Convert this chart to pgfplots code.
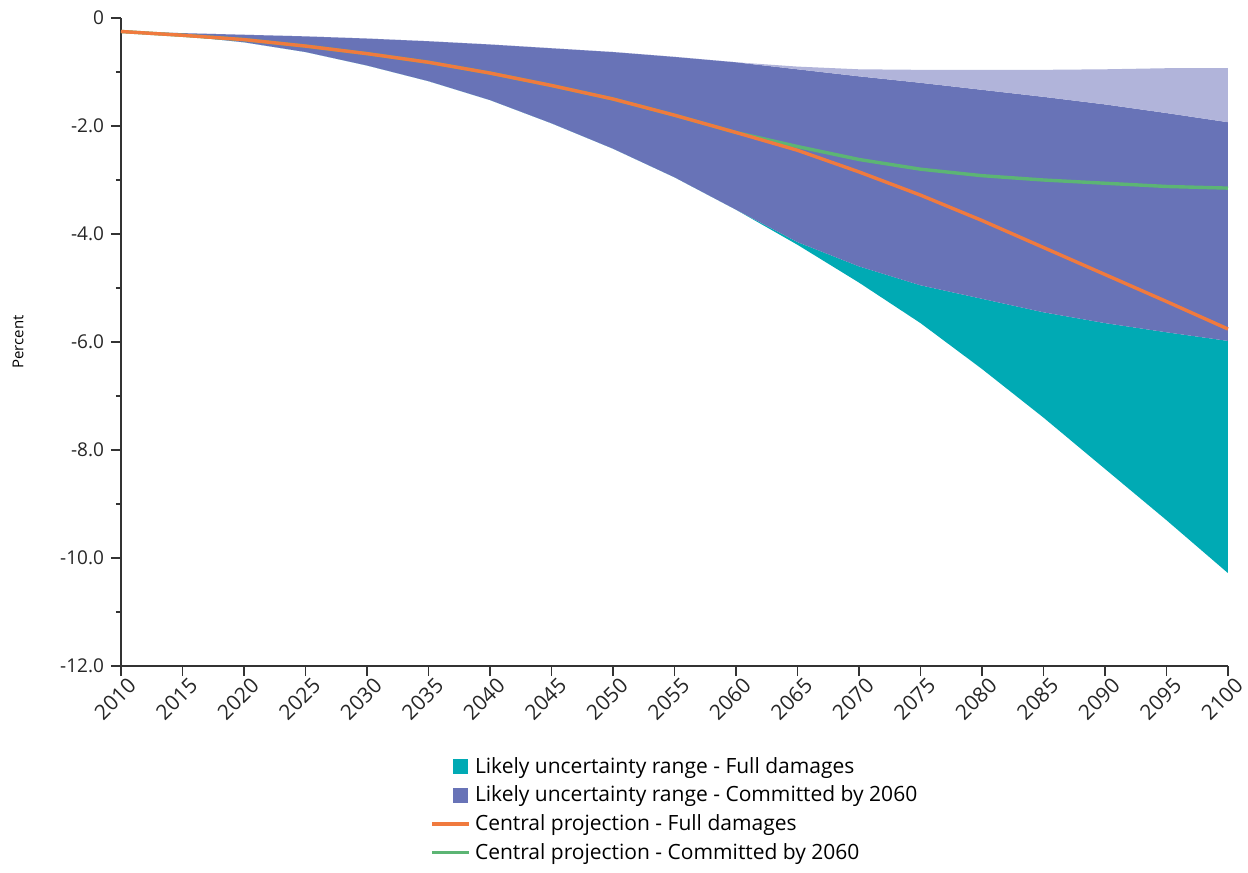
\documentclass[border=0pt]{standalone}
\usepackage{fontspec}
\setmainfont{Open Sans}
\usepackage{pgfplots}
\usepackage{pgfplotstable}
\pgfplotsset{compat=1.18}
\usepgfplotslibrary{fillbetween}
\definecolor{cteal}{HTML}{00AAB4}
\definecolor{cblue}{HTML}{6873B7}
\definecolor{clav}{HTML}{B1B4DA}
\definecolor{corange}{HTML}{F07A3E}
\definecolor{cgreen}{HTML}{5CB574}
\definecolor{caxis}{HTML}{333333}
\pgfplotstableread{
year fl cl cu fu of gc
2010 -0.25 -0.25 -0.25 -0.25 -0.25 -0.25
2015 -0.33 -0.33 -0.28 -0.28 -0.32 -0.32
2020 -0.45 -0.45 -0.31 -0.31 -0.40 -0.40
2025 -0.63 -0.63 -0.34 -0.34 -0.52 -0.52
2030 -0.88 -0.88 -0.38 -0.38 -0.66 -0.66
2035 -1.17 -1.17 -0.43 -0.43 -0.82 -0.82
2040 -1.52 -1.52 -0.49 -0.49 -1.02 -1.02
2045 -1.95 -1.95 -0.56 -0.56 -1.25 -1.25
2050 -2.42 -2.42 -0.63 -0.63 -1.50 -1.50
2055 -2.95 -2.95 -0.72 -0.72 -1.80 -1.80
2060 -3.55 -3.55 -0.82 -0.82 -2.12 -2.12
2065 -4.20 -4.15 -0.95 -0.90 -2.45 -2.38
2070 -4.90 -4.60 -1.08 -0.95 -2.85 -2.62
2075 -5.65 -4.95 -1.20 -0.96 -3.28 -2.80
2080 -6.50 -5.20 -1.33 -0.96 -3.75 -2.92
2085 -7.40 -5.45 -1.46 -0.96 -4.25 -3.00
2090 -8.35 -5.65 -1.60 -0.95 -4.75 -3.06
2095 -9.30 -5.82 -1.76 -0.93 -5.25 -3.12
2100 -10.28 -5.98 -1.93 -0.93 -5.76 -3.15
}\data
\pgfplotsset{
  sqlegend/.style={legend image code/.code={\fill[##1] (10.5pt,-3.75pt) rectangle (18pt,3.75pt);}},
  lnlegend/.style={legend image code/.code={\draw[##1] (0pt,0pt) -- (18.5pt,0pt);}},
}
\begin{document}
\begin{tikzpicture}
\begin{axis}[
  at={(0pt,0pt)}, anchor=south west,
  scale only axis,
  width=553.5pt, height=324pt,
  xmin=2010, xmax=2100, ymin=-12, ymax=0,
  axis x line*=bottom, axis y line*=left,
  axis line style={caxis, line width=0.8pt},
  xtick={2010,2015,...,2100},
  ytick={-12,-10,...,0},
  yticklabels={-12.0,-10.0,-8.0,-6.0,-4.0,-2.0,0},
  minor ytick={-11,-9,...,-1},
  tick align=outside,
  major tick length=5pt, minor tick length=2.5pt,
  tick style={caxis, line width=0.7pt},
  x tick label style={/pgf/number format/1000 sep=, rotate=45, anchor=east, font=\fontsize{10.5}{11}\selectfont, inner sep=1pt, xshift=3pt, yshift=-6pt, text=black!85},
  y tick label style={font=\fontsize{9.5}{10}\selectfont, text=black!85},
  /pgf/number format/assume math mode=true,
  ylabel={Percent},
  every axis y label/.style={at={(axis description cs:0,0.5)}, xshift=-51.5pt, rotate=90, anchor=center, font=\fontsize{7.5}{8}\selectfont},
  legend style={at={(axis description cs:0,0)}, anchor=north west, xshift=154.5pt, yshift=-43.5pt, draw=none, fill=none, font=\fontsize{10.5}{11}\selectfont, row sep=0.8pt, cells={anchor=west}, inner sep=0pt},
  legend cell align=left,
  clip=false,
]
\addplot[draw=none, name path=fl, forget plot] table[x=year,y=fl]{\data};
\addplot[draw=none, name path=cl, forget plot] table[x=year,y=cl]{\data};
\addplot[draw=none, name path=cu, forget plot] table[x=year,y=cu]{\data};
\addplot[draw=none, name path=fu, forget plot] table[x=year,y=fu]{\data};
\addplot[cteal, forget plot] fill between[of=fl and cl];
\addplot[cblue, forget plot] fill between[of=cl and cu];
\addplot[clav, forget plot] fill between[of=cu and fu];
\addlegendimage{sqlegend, fill=cteal, draw=none}
\addlegendentry{Likely uncertainty range - Full damages}
\addlegendimage{sqlegend, fill=cblue, draw=none}
\addlegendentry{Likely uncertainty range - Committed by 2060}
\addplot[cgreen, line width=1.7pt, forget plot] table[x=year,y=gc]{\data};
\addplot[corange, line width=1.7pt, forget plot] table[x=year,y=of]{\data};
\addlegendimage{lnlegend, corange, line width=1.8pt}
\addlegendentry{Central projection - Full damages}
\addlegendimage{lnlegend, cgreen, line width=1.8pt}
\addlegendentry{Central projection - Committed by 2060}
\end{axis}
\pgfresetboundingbox
\useasboundingbox (-60.5pt,-103.5pt) rectangle (563.5pt,333pt);
\end{tikzpicture}
\end{document}
